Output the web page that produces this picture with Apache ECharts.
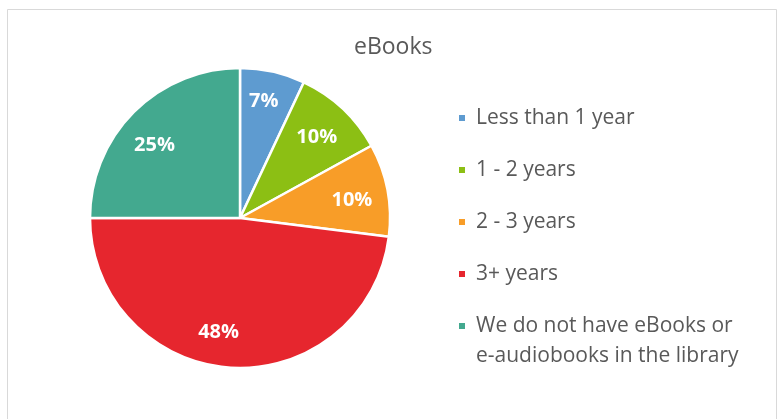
<!DOCTYPE html>
<html>
<head>
<meta charset="utf-8">
<style>
  html, body { margin: 0; padding: 0; background: #fff; }
  #chart { width: 779px; height: 419px; }
</style>
<script src="https://cdn.jsdelivr.net/npm/echarts@6/dist/echarts.min.js"></script>
</head>
<body>
<div id="chart"></div>
<script>
// eBooks: age of collection
const categories = [
  'Less than 1 year',
  '1 - 2 years',
  '2 - 3 years',
  '3+ years',
  'We do not have eBooks or\ne-audiobooks in the library'
];
const shares = [7, 10, 10, 48, 25];
const colors = ['#5e9bd0', '#8cbf14', '#f89d28', '#e6262e', '#43a98f'];

const FONT = '"Open Sans", Lato, sans-serif';
// small nudges for the percentage labels (best-fit placement)
const labelNudge = [[-2, -2], [-4, 5], [-4, 4], [-14, -3], [-2, 11]];

const pieData = categories.map((name, i) => ({ name, value: shares[i] }));
const labelData = categories.map((name, i) => ({
  name, value: shares[i], label: { offset: labelNudge[i] }
}));

// one legend block per category so that a wrapped entry keeps its marker on the first line
const legends = categories.map((name, i) => {
  const multi = name.includes('\n');
  return {
    data: [name],
    orient: 'vertical',
    left: 457,
    top: multi ? 103 + 52 * i - 30 : 103 + 52 * i,
    padding: 0,
    itemWidth: 8,
    itemHeight: 8,
    icon: 'rect',
    selectedMode: false,
    formatter: n => (n.includes('\n') ? '\n' + n : n),
    textStyle: { fontFamily: FONT, fontSize: 21, color: '#595959', lineHeight: 30, padding: [0, 0, 0, 5] }
  };
});

const chart = echarts.init(document.getElementById('chart'), null, { renderer: 'canvas' });
chart.setOption({
  animation: false,
  backgroundColor: '#fff',
  color: colors,
  title: {
    text: 'eBooks',
    left: 354,
    top: 36,
    padding: 0,
    textStyle: { fontFamily: FONT, fontSize: 23, fontWeight: 'normal', color: '#595959' }
  },
  graphic: [{
    type: 'rect',
    shape: { x: 7.5, y: 9.5, width: 769, height: 430 },
    style: { fill: 'none', stroke: '#d9d9d9', lineWidth: 1 },
    silent: true,
    z: -1
  }],
  legend: legends,
  series: [
    {
      type: 'pie',
      center: [240, 218],
      radius: [0, 150],
      startAngle: 90,
      clockwise: true,
      data: pieData,
      label: { show: false },
      labelLine: { show: false },
      itemStyle: { borderColor: '#fff', borderWidth: 2.5 },
      emphasis: { disabled: true }
    },
    {
      // label ring: places the percentage text at ~3/4 of the radius
      type: 'pie',
      center: [240, 218],
      radius: [80, 150],
      startAngle: 90,
      clockwise: true,
      data: labelData,
      silent: true,
      itemStyle: { color: 'rgba(0,0,0,0)', borderWidth: 0 },
      label: {
        show: true,
        position: 'inside',
        formatter: p => p.value + '%',
        fontFamily: FONT,
        fontSize: 20,
        fontWeight: 'bold',
        color: '#fff'
      },
      labelLine: { show: false },
      emphasis: { disabled: true }
    }
  ]
});
</script>
</body>
</html>
